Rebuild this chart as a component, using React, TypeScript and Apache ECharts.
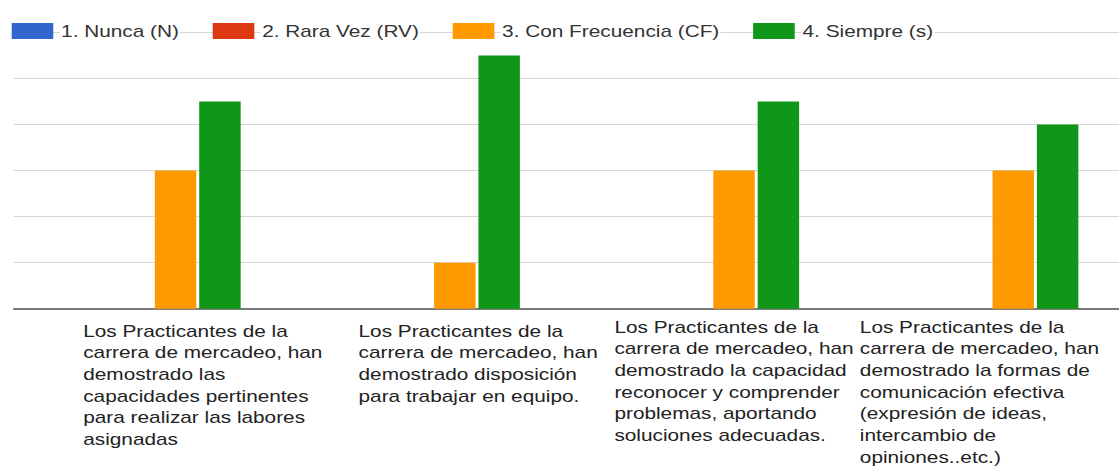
import { useEffect, useRef } from "react";
import * as echarts from "echarts";

const categories = [
  "Los Practicantes de la\ncarrera de mercadeo, han\ndemostrado las\ncapacidades pertinentes\npara realizar las labores\nasignadas",
  "Los Practicantes de la\ncarrera de mercadeo, han\ndemostrado disposición\npara trabajar en equipo.",
  "Los Practicantes de la\ncarrera de mercadeo, han\ndemostrado la capacidad\nreconocer y comprender\nproblemas, aportando\nsoluciones adecuadas.",
  "Los Practicantes de la\ncarrera de mercadeo, han\ndemostrado la formas de\ncomunicación efectiva\n(expresión de ideas,\nintercambio de\nopiniones..etc.)",
];

const seriesNames = ["1. Nunca (N)", "2. Rara Vez (RV)", "3. Con Frecuencia (CF)", "4. Siempre (s)"];
const nunca = [0, 0, 0, 0];
const raraVez = [0, 0, 0, 0];
const conFrecuencia = [6, 2, 6, 6];
const siempre = [9, 11, 9, 8];

const yMin = 0;
const yMax = 12;
const yInterval = 2;

// layout (not data)
const COLORS = ["#3366cc", "#dc3912", "#ff9900", "#109618"];
const LABEL_INDENT = [54, 57, 75, 101];
const LABEL_TOP_PAD = [4, 4, 0, 0];
const BASE_W = 861;
const STRETCH = 1119 / BASE_W;
const FONT = "'Liberation Sans', Arial, sans-serif";

export default function App() {
  const ref = useRef<HTMLDivElement>(null);

  useEffect(() => {
    const chart = echarts.init(ref.current!, null, { renderer: "svg" });
    const values = [nunca, raraVez, conFrecuencia, siempre];
    chart.setOption({
      animation: false,
      textStyle: { fontFamily: FONT },
      legend: {
        left: 4,
        top: 18,
        itemWidth: 32,
        itemHeight: 16,
        itemGap: 25,
        icon: "rect",
        data: seriesNames,
        selectedMode: false,
        textStyle: {
          fontSize: 16,
          color: "#333",
          fontFamily: FONT,
          backgroundColor: "#fff",
          padding: [0, 1],
        },
      },
      grid: {
        left: 10.6,
        top: 32.4,
        width: 859.4,
        height: 276.3,
        containLabel: false,
        outerBoundsMode: "none",
      },
      xAxis: {
        type: "category",
        data: categories.map((c, i) => ({
          value: c,
          textStyle: {
            width: LABEL_INDENT[i],
            align: "right",
            padding: [LABEL_TOP_PAD[i], 0, 0, 0],
          },
        })),
        axisTick: { show: false },
        axisLine: { lineStyle: { color: "#555", width: 1.5 } },
        axisLabel: {
          interval: 0,
          margin: 7.5,
          formatter: (v: string) =>
            v
              .split("\n")
              .map((l) => `{t|${l}}`)
              .join("\n"),
          rich: {
            t: {
              align: "left",
              fontSize: 16,
              lineHeight: 21.7,
              color: "#222",
              fontFamily: FONT,
            },
          },
        },
      },
      yAxis: {
        type: "value",
        min: yMin,
        max: yMax,
        interval: yInterval,
        axisLabel: { show: false },
        axisLine: { show: false },
        axisTick: { show: false },
        splitLine: { lineStyle: { color: "#d6d6d6", width: 1 } },
      },
      series: seriesNames.map((name, i) => ({
        type: "bar",
        name,
        data: values[i],
        itemStyle: { color: COLORS[i] },
        barWidth: 31.9,
        barGap: "7%",
      })),
    });
    return () => chart.dispose();
  }, []);

  return (
    <div
      ref={ref}
      style={{
        position: "absolute",
        left: 0,
        top: 0,
        width: BASE_W,
        height: 466,
        transform: `scaleX(${STRETCH})`,
        transformOrigin: "0 0",
      }}
    />
  );
}
